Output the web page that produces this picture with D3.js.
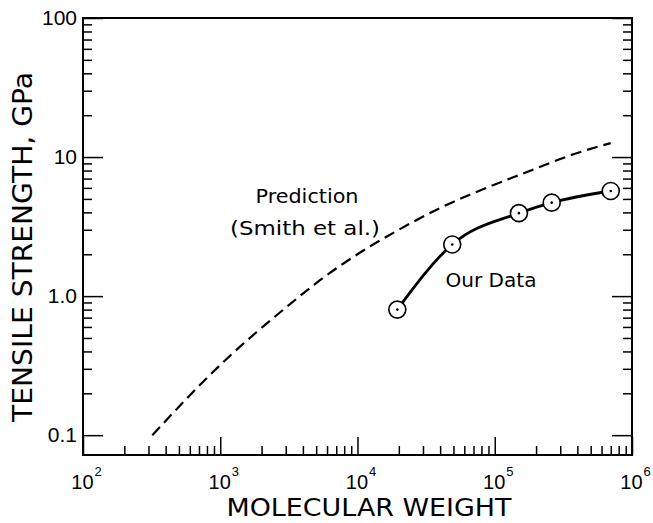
<!DOCTYPE html>
<html>
<head>
<meta charset="utf-8">
<script src="https://cdn.jsdelivr.net/npm/d3@7"></script>
<style>
  body { margin: 0; background: #fff; }
  svg { font-family: "DejaVu Sans", sans-serif; }
</style>
</head>
<body>
<div id="chart"></div>
<script>
// "Our Data" measurements
const ourWeight = [1.95e4, 4.9e4, 1.5e5, 2.6e5, 7.0e5];
const ourStrength = [0.8, 2.35, 3.95, 4.7, 5.7];

// Prediction (Smith et al.) curve
const predWeight = [320, 1000, 3200, 5600, 1e4, 2e4, 4e4, 7e4, 1.6e5, 4e5, 7e5];
const predStrength = [0.1, 0.32, 0.87, 1.35, 2.0, 3.0, 4.3, 5.5, 7.6, 10.7, 12.6];

// Tick labels
const xMajor = [1e2, 1e3, 1e4, 1e5, 1e6];
const xExponents = ["2", "3", "4", "5", "6"];
const yMajor = [0.1, 1, 10, 100];
const yLabels = ["0.1", "1.0", "10", "100"];

const width = 653, height = 523;
const margin = {top: 18, right: 21, bottom: 68, left: 83};

const svg = d3.select("#chart")
    .append("svg")
    .attr("width", width)
    .attr("height", height);

const x = d3.scaleLog()
    .domain([1e2, 1e6])
    .range([margin.left, width - margin.right]);

const y = d3.scaleLog()
    .domain([0.072, 100])
    .range([height - margin.bottom, margin.top]);

// minor ticks at 2..9 of each decade
const minorOf = decades => decades.flatMap(d => d3.range(2, 10).map(k => k * d));
const xMinor = minorOf([1e2, 1e3, 1e4, 1e5]);
const yMinor = minorOf([0.1, 1, 10]);

const x0 = margin.left, x1 = width - margin.right;
const y0 = height - margin.bottom, y1 = margin.top;

function cleanAxis(g) {
    g.select(".domain").remove();
    g.selectAll(".tick line").attr("stroke", "#000").attr("stroke-width", 1.5);
}

// bottom axis: ticks point inward
svg.append("g")
    .attr("transform", `translate(0,${y0})`)
    .call(d3.axisBottom(x).tickValues(xMinor).tickSize(-9).tickFormat(""))
    .call(cleanAxis);

const xAxisMajor = svg.append("g")
    .attr("transform", `translate(0,${y0})`)
    .call(d3.axisBottom(x).tickValues(xMajor).tickSize(-18).tickFormat(""))
    .call(cleanAxis);

xAxisMajor.selectAll(".tick text").remove();
xAxisMajor.selectAll(".tick").each(function(d, i) {
    const t = d3.select(this).append("text")
        .attr("fill", "#000")
        .attr("y", 34)
        .attr("x", 3)
        .attr("text-anchor", "middle")
        .style("font-size", "20px");
    t.append("tspan").text("10");
    t.append("tspan")
        .attr("dy", -13)
        .attr("dx", 1)
        .style("font-size", "13px")
        .text(xExponents[i]);
});

// left axis
svg.append("g")
    .attr("transform", `translate(${x0},0)`)
    .call(d3.axisLeft(y).tickValues(yMinor).tickSize(-9).tickFormat(""))
    .call(cleanAxis);

svg.append("g")
    .attr("transform", `translate(${x0},0)`)
    .call(d3.axisLeft(y).tickValues(yMajor).tickSize(-20).tickPadding(6)
        .tickFormat((d, i) => yLabels[i]))
    .call(cleanAxis)
    .call(g => g.selectAll(".tick text")
        .attr("fill", "#000")
        .style("font-size", "21px"));

// right axis, ticks point inward
svg.append("g")
    .attr("transform", `translate(${x1},0)`)
    .call(d3.axisRight(y).tickValues(yMinor).tickSize(-9).tickFormat(""))
    .call(cleanAxis);

svg.append("g")
    .attr("transform", `translate(${x1},0)`)
    .call(d3.axisRight(y).tickValues(yMajor).tickSize(-20).tickFormat(""))
    .call(cleanAxis);

// frame
svg.append("rect")
    .attr("x", x0)
    .attr("y", y1)
    .attr("width", x1 - x0)
    .attr("height", y0 - y1)
    .attr("fill", "none")
    .attr("stroke", "#000")
    .attr("stroke-width", 2);

const line = d3.line()
    .x(d => x(d[0]))
    .y(d => y(d[1]))
    .curve(d3.curveMonotoneX);

// prediction curve
svg.append("path")
    .datum(d3.zip(predWeight, predStrength))
    .attr("d", line)
    .attr("fill", "none")
    .attr("stroke", "#000")
    .attr("stroke-width", 2.2)
    .attr("stroke-dasharray", "11,6");

// our data
const ourData = d3.zip(ourWeight, ourStrength);

svg.append("path")
    .datum(ourData)
    .attr("d", line)
    .attr("fill", "none")
    .attr("stroke", "#000")
    .attr("stroke-width", 2.8);

svg.selectAll(".pt")
    .data(ourData)
    .join("circle")
    .attr("class", "pt")
    .attr("cx", d => x(d[0]))
    .attr("cy", d => y(d[1]))
    .attr("r", 8.5)
    .attr("fill", "#fff")
    .attr("stroke", "#000")
    .attr("stroke-width", 1.6);

svg.selectAll(".dot")
    .data(ourData)
    .join("circle")
    .attr("class", "dot")
    .attr("cx", d => x(d[0]))
    .attr("cy", d => y(d[1]))
    .attr("r", 1.3)
    .attr("fill", "#000");

// annotations
function label(text, cx, baseline, size, len) {
    svg.append("text")
        .attr("x", cx)
        .attr("y", baseline)
        .attr("text-anchor", "middle")
        .attr("textLength", len)
        .attr("lengthAdjust", "spacingAndGlyphs")
        .style("font-size", size + "px")
        .text(text);
}

label("Prediction", 307, 203, 20, 103);
label("(Smith et al.)", 305, 235, 20, 150);
label("Our Data", 491, 287, 20, 91);

// axis titles
label("MOLECULAR WEIGHT", 369, 516, 24, 285);

svg.append("text")
    .attr("transform", "translate(32,247) rotate(-90)")
    .attr("text-anchor", "middle")
    .attr("textLength", 350)
    .attr("lengthAdjust", "spacingAndGlyphs")
    .style("font-size", "27px")
    .text("TENSILE STRENGTH, GPa");
</script>
</body>
</html>
